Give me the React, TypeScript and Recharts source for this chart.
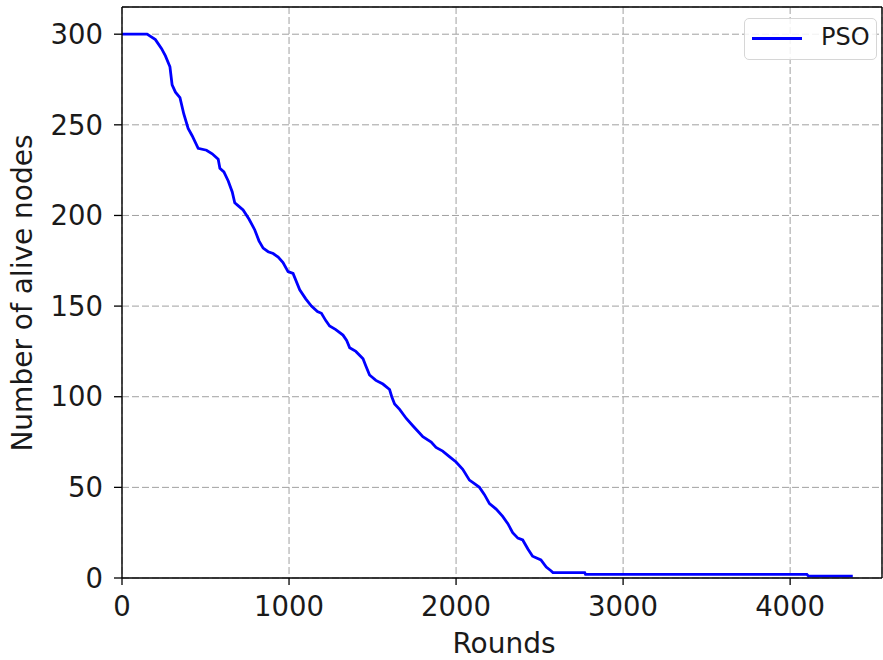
import React from "react";
import { LineChart, Line, XAxis, YAxis, CartesianGrid, ReferenceLine } from "recharts";

const rounds = [0, 150, 200, 237, 260, 287, 300, 320, 347, 370, 396, 420, 456, 506, 540, 576, 586, 610, 636, 660, 675, 700, 725, 760, 795, 820, 845, 875, 905, 935, 964, 994, 1024, 1064, 1100, 1134, 1170, 1194, 1220, 1243, 1280, 1323, 1345, 1363, 1400, 1443, 1460, 1482, 1520, 1562, 1602, 1615, 1632, 1662, 1702, 1741, 1781, 1801, 1851, 1880, 1920, 1960, 2000, 2040, 2080, 2110, 2140, 2170, 2200, 2240, 2279, 2310, 2339, 2370, 2399, 2430, 2458, 2508, 2540, 2568, 2580, 2770, 2775, 4100, 4110, 4375];
const alive = [300, 300, 297, 292, 288, 282, 272, 268, 265, 256, 248, 244, 237, 236, 234, 231, 226, 224, 219, 213, 207, 205, 203, 198, 192, 186, 182, 180, 179, 177, 174, 169, 168, 159, 154, 150, 147, 146, 142, 139, 137, 134, 131, 127, 125, 121, 117, 112, 109, 107, 104, 100, 96, 93, 88, 84, 80, 78, 75, 72, 70, 67, 64, 60, 54, 52, 50, 46, 41, 38, 34, 30, 25, 22, 21, 16, 12, 10, 6, 4, 3, 3, 2, 2, 1, 1];
const xTicks = [0, 1000, 2000, 3000, 4000];
const yTicks = [0, 50, 100, 150, 200, 250, 300];
const seriesName = "PSO";
const seriesColor = "#0000ff";
const xTitle = "Rounds";
const yTitle = "Number of alive nodes";

const data = rounds.map((r, i) => ({ round: r, alive: alive[i] }));

const FONT = "DejaVu Sans, sans-serif";

const LegendBox = () => (
  <div
    style={{
      position: "absolute",
      left: 744,
      top: 18,
      width: 133,
      height: 42,
      boxSizing: "border-box",
      border: "1.5px solid #d6d6d6",
      borderRadius: 5,
      background: "rgba(255,255,255,0.85)",
    }}
  >
    <svg width={60} height={42} style={{ position: "absolute", left: 0, top: -1.5 }}>
      <line x1={7} x2={57} y1={20.5} y2={20.5} stroke={seriesColor} strokeWidth={2.8} />
    </svg>
    <span
      style={{
        position: "absolute",
        left: 76,
        top: 2,
        fontFamily: FONT,
        fontSize: 24,
        lineHeight: "32px",
        color: "#1a1a1a",
      }}
    >
      {seriesName}
    </span>
  </div>
);

export default function App() {
  return (
    <div style={{ position: "absolute", left: 0, top: 0, width: 883, height: 660, background: "#fff" }}>
      <LineChart width={883} height={660} data={data} margin={{ top: 7, right: 1, bottom: 0, left: 0 }}>
        <CartesianGrid stroke="#a0a0a0" strokeDasharray="7 3" strokeWidth={1} />
        <XAxis
          dataKey="round"
          type="number"
          domain={[0, 4550]}
          ticks={xTicks}
          allowDataOverflow
          height={82}
          tickSize={7}
          tickMargin={11}
          axisLine={{ stroke: "#000", strokeWidth: 1.4 }}
          tickLine={{ stroke: "#000", strokeWidth: 1.3 }}
          tick={{ fill: "#1a1a1a", fontSize: 27.5, fontFamily: FONT }}
          label={{
            content: () => (
              <text x={504} y={653} textAnchor="middle" fontFamily={FONT} fontSize={28} fill="#1a1a1a">
                {xTitle}
              </text>
            ),
          }}
        />
        <YAxis
          type="number"
          domain={[0, 315]}
          ticks={yTicks}
          allowDataOverflow
          width={122}
          tickSize={8}
          tickMargin={11}
          axisLine={{ stroke: "#000", strokeWidth: 1.4 }}
          tickLine={{ stroke: "#000", strokeWidth: 1.3 }}
          tick={{ fill: "#1a1a1a", fontSize: 27.5, fontFamily: FONT }}
          label={{
            content: () => (
              <text
                x={22.5}
                y={293}
                transform="rotate(-90 22.5 293)"
                textAnchor="middle"
                dominantBaseline="central"
                fontFamily={FONT}
                fontSize={28}
                fill="#1a1a1a"
              >
                {yTitle}
              </text>
            ),
          }}
        />
        <ReferenceLine y={315} stroke="#000" strokeWidth={1.4} />
        <ReferenceLine x={4550} stroke="#000" strokeWidth={1.4} />
        <Line
          type="linear"
          dataKey="alive"
          name={seriesName}
          stroke={seriesColor}
          strokeWidth={2.8}
          dot={false}
          activeDot={false}
          isAnimationActive={false}
        />
      </LineChart>
      <LegendBox />
    </div>
  );
}
